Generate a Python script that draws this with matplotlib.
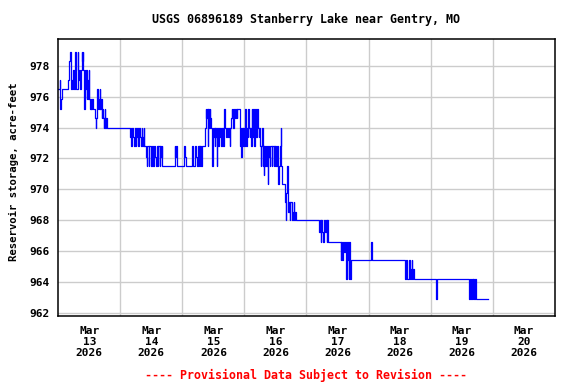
import matplotlib
matplotlib.use("Agg")
import matplotlib.pyplot as plt

# hours since 2026-03-13 00:00 and reservoir storage (acre-feet), step changes
hours = [
    0.0, 0.5, 0.75, 1.0, 1.25, 3.75, 4.25, 4.5, 4.75, 5.0, 5.25, 5.5, 5.75, 6.0,
    6.5, 6.75, 7.0, 7.5, 7.75, 8.0, 8.25, 8.5, 8.75, 9.0, 9.25, 9.5, 9.75, 10.0,
    10.25, 10.5, 10.75, 11.0, 11.25, 11.5, 11.75, 12.0, 12.25, 12.5, 12.75, 13.0,
    13.25, 14.25, 14.5, 14.75, 15.0, 15.25, 15.5, 15.75, 16.0, 16.25, 16.5, 16.75,
    17.0, 17.25, 17.5, 17.75, 18.0, 18.25, 18.5, 18.75,
    27.75, 28.0, 28.25, 28.5, 29.0, 29.25, 29.5, 30.0, 30.25, 30.5, 31.0, 31.25,
    31.5, 32.0, 32.25, 32.5, 32.75, 33.0, 33.25,
    34.0, 34.25, 34.5, 35.0, 35.25, 35.75, 36.0, 36.25, 36.75, 37.0, 37.5, 37.75,
    38.0, 38.5, 38.75, 39.25, 39.5, 39.75, 40.0, 40.25,
    45.0, 45.25, 45.5, 45.75, 48.75, 49.0, 49.25, 51.75, 52.0, 53.0, 53.25, 53.5,
    54.0, 54.25, 54.5, 54.75, 55.0, 55.25, 55.5,
    56.75, 57.0, 57.25, 57.5, 57.75, 58.0, 58.25, 58.5, 58.75, 59.0, 59.5, 59.75,
    60.0, 60.25, 60.5, 60.75, 61.0, 61.25, 61.5, 61.75, 62.0, 62.5, 62.75, 63.0,
    63.25, 63.5, 63.75, 64.0, 64.25, 64.5, 65.0, 65.25, 65.75, 66.0, 66.25, 66.5,
    66.75, 67.0, 67.25, 67.5, 67.75, 68.0, 68.25, 68.75, 69.0, 69.25, 70.25, 70.5,
    70.75, 71.0, 71.25, 71.5, 71.75, 72.0, 72.25, 72.5, 72.75, 73.0, 73.25, 73.5,
    73.75, 74.0, 74.25, 74.5, 74.75, 75.0, 75.25, 75.5, 75.75, 76.0, 76.25, 76.5,
    76.75, 77.0, 77.25, 77.5, 77.75, 78.0, 78.25, 78.5, 78.75, 79.0, 79.25, 79.5,
    79.75, 80.0, 80.25, 80.75, 81.0, 81.25, 81.5, 81.75, 82.0, 82.5, 82.75, 83.25,
    83.5, 83.75, 84.0, 84.25, 84.75, 85.0, 85.25, 85.75, 86.0, 86.25, 86.5, 87.5,
    87.75, 88.0, 88.25, 88.5, 88.75, 89.0, 89.25, 89.5, 89.75, 90.25, 90.5, 90.75,
    91.0, 91.25, 91.5, 91.75,
    101.0, 101.25, 101.5, 101.75, 102.0, 102.5, 102.75, 103.25, 103.5, 103.75,
    104.0, 104.25, 104.5,
    109.25, 109.5, 109.75, 110.0, 110.5, 110.75, 111.25, 111.5, 111.75, 112.0,
    112.25, 112.5, 112.75, 113.0, 113.25, 121.0, 121.25, 121.5,
    134.25, 134.5, 134.75, 135.0, 135.5, 135.75, 136.0, 136.5, 136.75, 137.0,
    137.25, 137.5, 146.0, 146.25, 146.5,
    159.0, 159.25, 159.5, 159.75, 160.0, 160.25, 160.5, 160.75, 161.0, 161.25,
    161.5, 166.1,
]

storage = [
    976.5, 977.1, 975.2, 975.85, 976.5, 977.1, 978.35, 978.9, 977.75, 976.5, 977.1, 976.5, 977.75, 976.5,
    978.9, 978.35, 976.5, 978.9, 977.75, 977.1, 977.75, 976.5, 977.75, 978.9, 978.35, 978.9, 977.75, 975.2,
    977.75, 976.5, 977.75, 975.85, 977.1, 975.85, 977.75, 975.85, 975.2, 975.85, 975.2, 975.85,
    975.2, 974.6, 974.0, 974.6, 976.5, 975.2, 975.85, 975.2, 976.5, 975.2, 975.85, 974.6,
    975.2, 974.6, 974.0, 974.6, 975.2, 974.0, 974.6, 974.0,
    973.4, 974.0, 972.8, 974.0, 973.4, 972.8, 974.0, 972.8, 973.4, 974.0, 972.8, 974.0,
    973.4, 972.8, 974.0, 973.4, 972.8, 974.0, 972.8,
    972.1, 971.5, 972.8, 971.5, 972.8, 972.1, 971.5, 972.8, 971.5, 972.8, 972.1, 971.5,
    972.8, 971.5, 972.8, 971.5, 972.8, 972.1, 972.8, 971.5,
    972.8, 972.1, 972.8, 971.5, 972.8, 972.1, 971.5, 972.8, 971.5, 972.8, 972.1, 971.5,
    972.8, 971.5, 972.8, 971.5, 972.8, 971.5, 972.8,
    974.0, 975.2, 974.6, 975.2, 972.8, 975.2, 974.0, 975.2, 974.6, 974.0, 971.5, 974.0,
    973.4, 974.0, 972.8, 974.0, 973.4, 971.5, 974.0, 972.8, 974.0, 973.4, 974.0, 972.8,
    973.4, 974.0, 972.8, 974.0, 975.2, 974.0, 973.4, 974.0, 973.4, 974.0, 972.8, 974.0,
    974.6, 975.2, 974.6, 975.2, 974.0, 975.2, 974.6, 975.2, 974.6, 975.2, 972.8, 974.0,
    972.1, 974.0, 972.8, 974.0, 973.4, 972.8, 975.2, 974.0, 972.8, 974.0, 973.4, 975.2,
    974.0, 973.4, 974.0, 972.8, 975.2, 973.4, 974.0, 975.2, 972.8, 974.0, 975.2, 973.4,
    974.0, 975.2, 974.0, 973.4, 974.0, 972.8, 971.5, 972.8, 974.0, 971.5, 972.8, 970.9,
    972.8, 971.5, 972.8, 971.5, 970.35, 972.8, 972.1, 971.5, 972.8, 971.5, 972.8, 971.5,
    972.8, 971.5, 972.8, 971.5, 972.8, 970.35, 971.5, 972.8, 974.0, 971.5, 970.35, 969.75,
    969.15, 968.0, 969.75, 971.5, 969.15, 968.55, 969.15, 968.0, 969.15, 968.55, 968.0, 968.55,
    969.15, 968.0, 968.55, 968.0,
    967.25, 968.0, 966.6, 968.0, 967.25, 966.6, 968.0, 967.25, 968.0, 966.6,
    968.0, 967.25, 966.6,
    965.4, 966.6, 965.4, 966.6, 965.95, 966.6, 964.15, 965.4, 966.6, 965.4,
    964.15, 966.6, 965.4, 964.15, 965.4, 966.6, 965.95, 965.4,
    964.15, 965.4, 964.8, 964.15, 964.8, 965.4, 964.15, 964.8, 965.4, 964.15,
    964.8, 964.15, 963.5, 962.9, 964.15,
    962.9, 964.15, 963.5, 962.9, 964.15, 962.9, 964.15, 962.9, 963.5, 964.15,
    962.9, 962.9,
]

day_labels = ["Mar\n13\n2026", "Mar\n14\n2026", "Mar\n15\n2026", "Mar\n16\n2026",
              "Mar\n17\n2026", "Mar\n18\n2026", "Mar\n19\n2026", "Mar\n20\n2026"]
y_ticks = [962, 964, 966, 968, 970, 972, 974, 976, 978]

FONT = "DejaVu Sans Mono"

fig = plt.figure(figsize=(5.76, 3.84), dpi=100)
ax = fig.add_axes([0.1012, 0.1771, 0.8618, 0.7206])

ax.step(hours, storage, where="post", color="#0000ff", linewidth=0.9)

ax.set_xlim(0, 192)
ax.set_ylim(961.78, 979.73)

ax.set_xticks([24 * i for i in range(1, 8)])
ax.set_xticks([24 * i + 12 for i in range(8)], minor=True)
ax.set_xticklabels([], minor=False)
ax.set_xticklabels(day_labels, minor=True, fontfamily=FONT, fontweight="bold",
                   fontsize=8, linespacing=1.15)
ax.set_yticks(y_ticks)
ax.set_yticklabels([str(v) for v in y_ticks], fontfamily=FONT, fontweight="bold",
                   fontsize=8)
ax.tick_params(axis="both", which="both", length=0)
ax.tick_params(axis="x", which="minor", pad=7)
ax.tick_params(axis="y", pad=6)

ax.grid(True, which="major", color="#cccccc", linewidth=1.0)
ax.set_axisbelow(True)
for s in ax.spines.values():
    s.set_linewidth(1.1)
    s.set_color("black")

ax.set_ylabel("Reservoir storage, acre-feet", fontfamily=FONT, fontweight="bold",
              fontsize=7.7)
ax.yaxis.set_label_coords(-0.079, 0.52)

# title and provisional note centered over the plot area
cx = 0.1012 + 0.8618 / 2
fig.text(cx, 1 - 19 / 384, "USGS 06896189 Stanberry Lake near Gentry, MO",
         ha="center", va="center", fontfamily=FONT, fontweight="bold", fontsize=8.4)
fig.text(cx, 1 - 375 / 384, "---- Provisional Data Subject to Revision ----",
         ha="center", va="center", fontfamily=FONT, fontweight="bold", fontsize=8.4,
         color="#ff0000")

fig.savefig("out.png", dpi=100)
